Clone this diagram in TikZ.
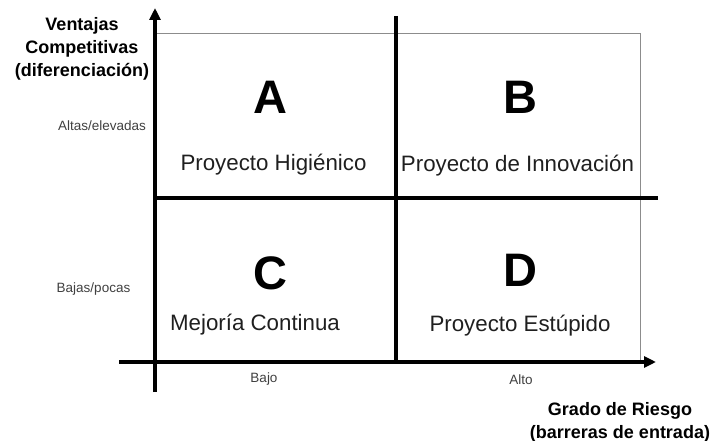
\documentclass[tikz,border=0pt]{standalone}
\usepackage{fontspec}
\setmainfont{Liberation Sans}
\usetikzlibrary{arrows.meta}
\begin{document}
\begin{tikzpicture}[x=1pt,y=-1pt,
  axisline/.style={line width=4pt, -{Triangle[length=12pt,width=11pt]}},
  divider/.style={line width=4pt},
  framebox/.style={line width=1pt, draw=black!45},
  quad/.style={font=\fontsize{47}{50}\selectfont\bfseries, inner sep=0pt},
  proj/.style={font=\fontsize{22.3}{26}\selectfont, text=black!88, inner sep=0pt, anchor=base},
  ticklab/.style={font=\fontsize{13.5}{16}\selectfont, text=black!75, inner sep=0pt},
  axtitle/.style={font=\fontsize{18}{23}\selectfont\bfseries, align=center, inner sep=0pt}]
\useasboundingbox (0,0) rectangle (713,441);
% coordinates
\coordinate (ybot) at (155,392);
\coordinate (ytop) at (155,8);
\coordinate (xleft) at (119,362);
\coordinate (xright) at (656,362);
\coordinate (mtop) at (396,16);
\coordinate (mbot) at (396,362);
\coordinate (hl) at (155,198);
\coordinate (hr) at (658,198);
\coordinate (ftl) at (155,34);
\coordinate (ftr) at (640,34);
\coordinate (fbr) at (640,362);
% thin frame
\draw[framebox] (ftl) -- (ftr) -- (fbr);
% dividers and axes
\draw[divider] (mtop) -- (mbot);
\draw[divider] (hl) -- (hr);
\draw[axisline] (ybot) -- (ytop);
\draw[axisline] (xleft) -- (xright);
% quadrant letters
\node[quad] (qa) at (270,97.5) {A};
\node[quad] (qb) at (520,97.5) {B};
\node[quad] (qc) at (270,273) {C};
\node[quad] (qd) at (520,270) {D};
% project names
\node[proj] (pa) at (273.5,170.5) {Proyecto Higiénico};
\node[proj] (pb) at (517.5,171.5) {Proyecto de Innovación};
\node[proj] (pc) at (255,330.5) {Mejoría Continua};
\node[proj] (pd) at (520,331.5) {Proyecto Estúpido};
% tick labels
\node[ticklab] (alt) at (102,126) {Altas/elevadas};
\node[ticklab] (baj) at (93.5,289) {Bajas/pocas};
\node[ticklab] (bajo) at (264,379) {Bajo};
\node[ticklab] (alto) at (521,380) {Alto};
% axis titles
\node[axtitle] (ytitle) at (82,48.5) {Ventajas\\Competitivas\\(diferenciación)};
\node[axtitle] (xtitle) at (620,422) {Grado de Riesgo\\(barreras de entrada)};
\end{tikzpicture}
\end{document}
